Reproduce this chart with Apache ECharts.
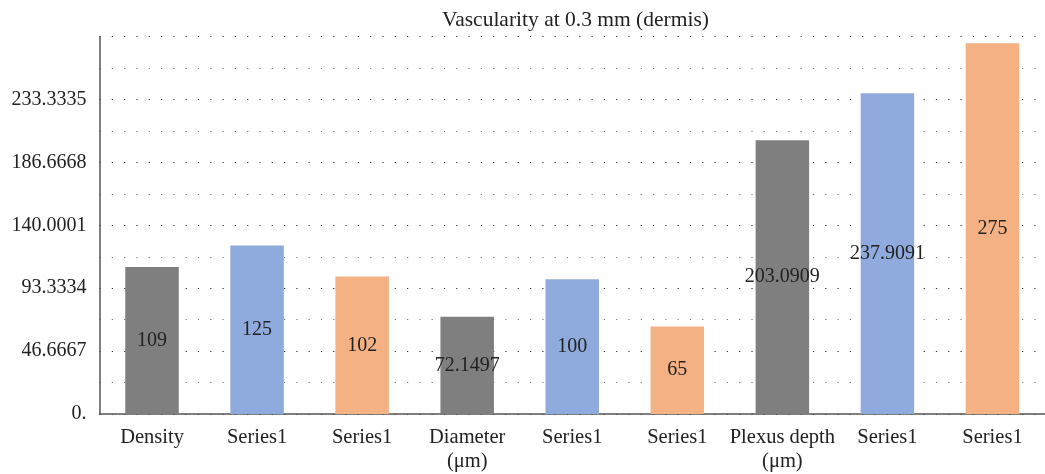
<!DOCTYPE html>
<html>
<head>
<meta charset="utf-8">
<script src="https://cdn.jsdelivr.net/npm/echarts@6/dist/echarts.min.js"></script>
<style>html,body{margin:0;padding:0;background:#fff;}#c{width:1045px;height:474px;}</style>
</head>
<body>
<div id="c"></div>
<script>
const titleText = 'Vascularity at 0.3 mm (dermis)';
const categories = ['Density', 'Series1', 'Series1', 'Diameter\n(μm)', 'Series1', 'Series1', 'Plexus depth\n(μm)', 'Series1', 'Series1'];
const values = [109, 125, 102, 72.1497, 100, 65, 203.0909, 237.9091, 275];
const barColors = ['#7f7f7f', '#8faadc', '#f4b183', '#7f7f7f', '#8faadc', '#f4b183', '#7f7f7f', '#8faadc', '#f4b183'];
const yTickLabels = ['0.', '46.6667', '93.3334', '140.0001', '186.6668', '233.3335', '280.0002'];
const yStep = 46.6667;
const yMax = 280.0002;

const font = 'Liberation Serif';
const chart = echarts.init(document.getElementById('c'));
chart.setOption({
  animation: false,
  title: {
    text: titleText, left: 570.5, top: 4, textAlign: 'center',
    textStyle: { fontFamily: font, fontSize: 21.5, fontWeight: 'normal', color: '#222' }
  },
  grid: { left: 99.5, right: -9, top: 36.6, bottom: 56.8, containLabel: false },
  xAxis: {
    type: 'category', data: categories,
    axisLine: { lineStyle: { color: '#555', width: 1.5 } },
    axisTick: { show: false },
    axisLabel: { interval: 0, fontFamily: font, fontSize: 20.5, color: '#222', lineHeight: 24, margin: 12 }
  },
  yAxis: {
    type: 'value', min: 0, max: yMax, interval: yStep,
    axisLine: { show: true, lineStyle: { color: '#555', width: 1.5 } },
    axisTick: { show: false },
    axisLabel: {
      showMaxLabel: false, fontFamily: font, fontSize: 20, color: '#222', margin: 13,
      formatter: v => yTickLabels[Math.round(v / yStep)]
    },
    splitLine: { show: true, lineStyle: { color: '#333', width: 1.2, type: [1.2, 11.1] } },
    minorTick: { show: false, splitNumber: 2 },
    minorSplitLine: { show: true, lineStyle: { color: '#777', width: 1.2, type: [1.2, 11.1] } }
  },
  series: [{
    type: 'bar', data: values, barWidth: 53.5,
    itemStyle: { color: p => barColors[p.dataIndex] },
    label: { show: true, position: 'inside', fontFamily: font, fontSize: 20, color: '#222' }
  }]
});
</script>
</body>
</html>
